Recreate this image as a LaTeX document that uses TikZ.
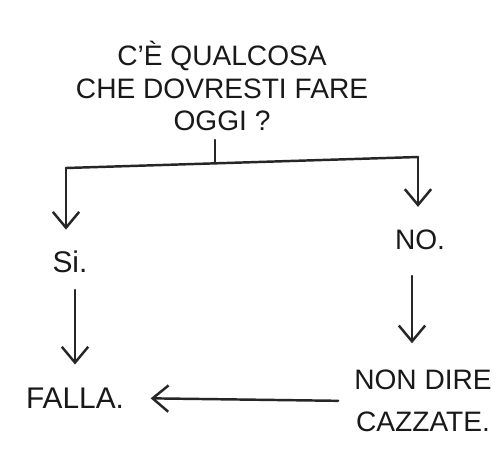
\documentclass[tikz,border=0pt]{standalone}
\usepackage{fontspec}
\setmainfont{Liberation Sans}
\usetikzlibrary{arrows.meta}
\begin{document}
\begin{tikzpicture}[x=0.02cm,y=-0.02cm,
  lbl/.style={font=\fontsize{16}{20}\selectfont, align=center, inner sep=1pt, text=black!90},
  conn/.style={line width=1.4pt, black!85, line cap=round},
  arr/.style={conn, -{Straight Barb[length=9pt,width=15pt,line width=1.4pt]}}]
\useasboundingbox (0,0) rectangle (500,454);
\fill[white] (0,0) rectangle (500,454);
\node[lbl] (q) at (222,86) {C'È QUALCOSA\\[-1.5pt]CHE DOVRESTI FARE\\[-1.5pt]OGGI ?};
\node[lbl, font=\fontsize{17}{20}\selectfont] (si) at (70,262) {Si.};
\node[lbl] (no) at (420,240) {NO.};
\node[lbl, font=\fontsize{17}{20}\selectfont] (falla) at (75,398) {FALLA.};
\node[lbl] (nondire) at (423,401) {NON DIRE\\[4pt]CAZZATE.};
\coordinate (stemtop) at (215,140);
\coordinate (stembot) at (215,163);
\coordinate (hl) at (66,168);
\coordinate (hr) at (418,157);
\draw[conn] (stemtop) -- (stembot);
\draw[conn] (hl) -- (hr);
\draw[arr, shorten >=11pt] (hl) -- (si.north -| hl);
\draw[arr, shorten >=12pt] (hr) -- (no.north -| hr);
\draw[arr, shorten >=12pt] (75,290) -- (falla.north -| 75,0);
\draw[arr, shorten >=14pt] (412,276) -- (nondire.north -| 412,0);
\draw[arr, shorten <=8pt, shorten >=14pt] (nondire.west) -- (falla.east);
\end{tikzpicture}
\end{document}
